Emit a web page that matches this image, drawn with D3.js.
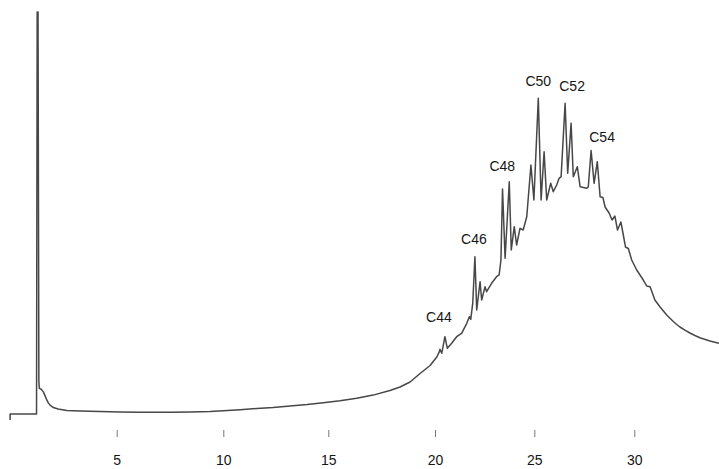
<!DOCTYPE html>
<html>
<head>
<meta charset="utf-8">
<script src="https://cdn.jsdelivr.net/npm/d3@7/dist/d3.min.js"></script>
<style>
  html, body { margin: 0; padding: 0; background: #fff; }
  svg { display: block; }
  .tick text { font-family: "Liberation Sans", Arial, sans-serif; }
</style>
</head>
<body>
<svg id="chart" width="719" height="469"></svg>
<script>
// Retention time (min) and detector signal (relative units) of the trace
const retentionTime = [
  0, 0, 1.24, 1.27, 1.31, 1.35, 1.37, 1.45, 1.56, 1.64, 1.72, 1.80, 1.875, 2.03, 2.25, 2.66,
  3.28, 4.22, 5.16, 6.09, 7.5, 8.44, 9.38, 10.0, 10.8, 11.6, 12.37, 13.18, 13.99, 14.76,
  15.55, 16.33, 17.10, 17.89, 18.36, 18.83, 19.30, 19.77, 20.09, 20.22, 20.25, 20.34,
  20.50, 20.62, 20.84, 21.09, 21.34, 21.60, 21.73, 21.80, 21.90, 22.01, 22.10, 22.27,
  22.35, 22.52, 22.60, 22.85, 23.10, 23.23, 23.32, 23.40, 23.53, 23.74, 23.84, 23.99,
  24.11, 24.28, 24.44, 24.62, 24.83, 24.98, 25.20, 25.34, 25.49, 25.62, 25.82, 25.95,
  26.12, 26.24, 26.34, 26.54, 26.67, 26.84, 26.95, 27.15, 27.29, 27.62, 27.70, 27.84,
  27.99, 28.15, 28.29, 28.43, 28.54, 28.74, 28.89, 29.03, 29.16, 29.33, 29.46, 29.56,
  29.70, 29.87, 30.12, 30.45, 30.62, 30.79, 31.03, 31.28, 31.62, 31.95, 32.12, 32.28,
  32.53, 32.78, 33.03, 33.28, 33.78, 34.23
];
const signal = [
  -1.5, 0, 0, 100, 100, 8, 6.4, 6.2, 5.5, 4.5, 3.5, 2.7, 2.2, 1.6, 1.25, 0.87,
  0.75, 0.62, 0.5, 0.45, 0.42, 0.5, 0.62, 0.82, 1.07, 1.37, 1.62, 2.0, 2.36, 2.8,
  3.3, 3.9, 4.7, 5.85, 6.72, 7.96, 10.07, 12.06, 14.18, 15.50, 16.09, 15.10,
  19.23, 16.34, 17.59, 19.23, 20.07, 22.56, 24.20, 23.56, 27.54, 39.13, 25.87, 32.91,
  28.36, 31.67, 30.42, 32.51, 34.15, 34.58, 38.31, 55.97, 38.73, 57.79, 40.80, 46.59,
  42.04, 46.19, 45.77, 49.08, 61.94, 53.23, 78.53, 53.23, 65.25, 53.23, 57.39, 55.30,
  56.97, 58.63, 59.03, 77.29, 59.88, 72.31, 59.03, 61.52, 56.54, 56.14, 56.54, 65.55,
  57.39, 62.76, 54.05, 53.86, 51.49, 50.0, 48.26, 49.25, 45.77, 47.76, 44.28, 41.54,
  41.17, 38.31, 35.82, 33.33, 31.84, 31.67, 28.36, 26.69, 24.63, 23.0, 22.26, 21.64,
  20.85, 20.15, 19.53, 18.98, 18.16, 17.59
];

// Labelled alkane peaks (carbon number) and their retention times
const peakNames = ["C44", "C46", "C48", "C50", "C52", "C54"];
const peakTimes = [20.50, 22.01, 23.74, 25.20, 26.54, 27.84];

// Time-axis tick labels
const tickValues = [5, 10, 15, 20, 25, 30];

const svg = d3.select("#chart");

// The recorder's time axis is not perfectly uniform, so the scale is
// calibrated piecewise on the printed tick marks.
const x = d3.scaleLinear()
  .domain(tickValues)
  .range([116.7, 223.3, 328.3, 435, 534.3, 634.3]);

const y = d3.scaleLinear().domain([0, 100]).range([414, 12]);

const points = retentionTime.map((t, i) => [t, signal[i]]);

const line = d3.line()
  .x(d => x(d[0]))
  .y(d => y(d[1]));

svg.append("path")
  .datum(points)
  .attr("fill", "none")
  .attr("stroke", "#474747")
  .attr("stroke-width", 1.5)
  .attr("stroke-linejoin", "round")
  .attr("d", line);

// Bottom axis: tick marks and numbers only, no axis line
const axis = svg.append("g")
  .attr("transform", "translate(0,430)")
  .call(d3.axisBottom(x)
    .tickValues(tickValues)
    .tickFormat(d3.format("d"))
    .tickSize(7)
    .tickSizeOuter(0)
    .tickPadding(18));
axis.select(".domain").remove();
axis.selectAll(".tick line").attr("stroke", "#777");
axis.selectAll(".tick text")
  .attr("fill", "#151515")
  .attr("font-size", 14);

// Peak annotations, set just above each peak apex
const labelNudge = [[-6, -15], [-1, -13], [-7, -11], [0, -12], [7, -12], [11, -8]];
const peakSignal = t => signal[retentionTime.indexOf(t)];

svg.append("g")
  .selectAll("text")
  .data(peakNames)
  .join("text")
  .attr("x", (d, i) => x(peakTimes[i]) + labelNudge[i][0])
  .attr("y", (d, i) => y(peakSignal(peakTimes[i])) + labelNudge[i][1])
  .attr("text-anchor", "middle")
  .attr("font-family", "'Liberation Sans', Arial, sans-serif")
  .attr("font-size", 14)
  .attr("fill", "#151515")
  .text(d => d);
</script>
</body>
</html>
